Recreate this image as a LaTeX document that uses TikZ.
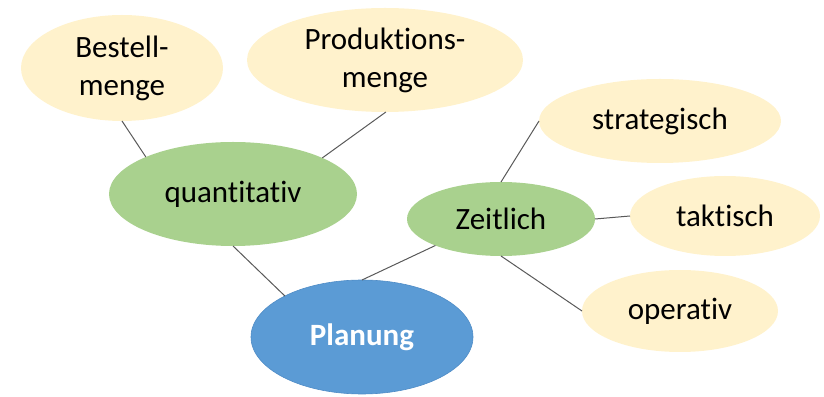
\documentclass[tikz,border=0pt]{standalone}
\usepackage{fontspec}
\setmainfont{Carlito}[Ligatures={NoCommon}]
\usetikzlibrary{shapes.geometric}
\definecolor{beige}{HTML}{FFF2CC}
\definecolor{leaf}{HTML}{A9D18E}
\definecolor{sky}{HTML}{5B9BD5}
\definecolor{skyline}{HTML}{4F8CC6}
\definecolor{conn}{HTML}{595959}
\tikzset{
  bubble/.style={ellipse, inner sep=0pt, outer sep=0pt, align=center,
    font=\fontsize{31}{38}\selectfont, text=black},
  leafnode/.style={bubble, fill=beige},
  midnode/.style={bubble, fill=leaf},
  rootnode/.style={bubble, fill=sky, draw=skyline, line width=0.6pt, text=white, font=\fontsize{31}{38}\selectfont\bfseries},
  link/.style={draw=conn, line width=1pt}
}
\begin{document}
\begin{tikzpicture}[x=1pt,y=1pt]
\useasboundingbox (0,0) rectangle (824,396);
% centers: y = 396 - ypx
\node[leafnode, minimum width=202pt, minimum height=106pt] (best) at (122,328) {Bestell-\\menge};
\node[leafnode, minimum width=276pt, minimum height=104pt] (prod) at (385,336) {Produktions-\\menge};
\node[midnode, minimum width=248pt, minimum height=104pt] (quan) at (233,202) {quantitativ};
\node[midnode, minimum width=188pt, minimum height=74pt] (zeit) at (501,177) {Zeitlich};
\node[leafnode, minimum width=242pt, minimum height=84pt] (stra) at (660,275) {strategisch};
\node[leafnode, minimum width=190pt, minimum height=80pt] (takt) at (725,180) {taktisch};
\node[leafnode, minimum width=196pt, minimum height=82pt] (oper) at (680,85) {operativ};
\node[rootnode, minimum width=222pt, minimum height=114pt] (plan) at (362,59) {Planung};
% connectors
\draw[link] (best.-90) -- (quan.157);
\draw[link] (prod.-89) -- (quan.22.6);
\draw[link] (quan.-90) -- (plan.152.6);
\draw[link] (plan.90) -- (zeit.202);
\draw[link] (zeit.90) -- (stra.180);
\draw[link] (zeit.0) -- (takt.180);
\draw[link] (zeit.-90) -- (oper.180);
\end{tikzpicture}
\end{document}
